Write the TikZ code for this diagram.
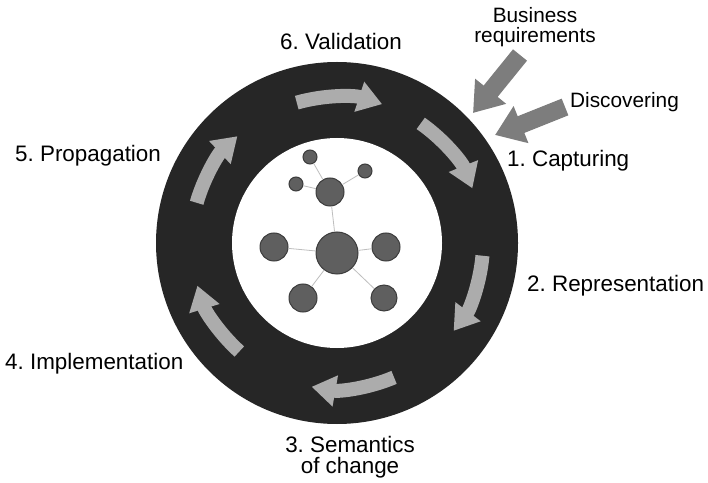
\documentclass[tikz,border=0pt]{standalone}
\usepackage{fontspec}
\setmainfont{Liberation Sans}
\usetikzlibrary{arrows.meta}
\definecolor{ringgray}{RGB}{38,38,38}
\definecolor{flowgray}{RGB}{172,172,172}
\definecolor{feedgray}{RGB}{125,125,125}
\definecolor{dotgray}{RGB}{95,95,95}
\definecolor{dotedge}{RGB}{60,60,60}
\definecolor{linkgray}{RGB}{190,190,190}

\begin{document}
\frenchspacing
\begin{tikzpicture}[x=1pt,y=1pt,
	label/.style={font=\fontsize{22.4}{21.5}\selectfont, inner sep=0pt},
	input/.style={font=\fontsize{20.8}{19.5}\selectfont, inner sep=0pt, align=center},
	dot/.style={circle, fill=dotgray, draw=dotedge, line width=1pt, inner sep=0pt},
	link/.style={draw=linkgray, line width=0.8pt},
	flow/.style={draw=flowgray, line width=14pt, -{Triangle[width=30pt,length=24pt]}},
	feed/.style={draw=feedgray, line width=18pt, -{Triangle[width=38pt,length=28pt]}}]
						\useasboundingbox (0,0) rectangle (708,482);
						\pgfmathsetmacro{\r}{146}
						\coordinate (c) at (337,239);
						\fill [ringgray] (c) circle (181);
						\fill [white] (c) circle (105);
						% arrows round the ring
						\draw [flow] ([shift={(c)}]106:\r) arc [start angle=106, end angle=72, radius=\r];
						\draw [flow] ([shift={(c)}]55:\r) arc [start angle=55, end angle=22, radius=\r];
						\draw [flow] ([shift={(c)}]-5:\r) arc [start angle=-5, end angle=-37, radius=\r];
						\draw [flow] ([shift={(c)}]-67:\r) arc [start angle=-67, end angle=-100, radius=\r];
						\draw [flow] ([shift={(c)}]-132:\r) arc [start angle=-132, end angle=-163, radius=\r];
						\draw [flow] ([shift={(c)}]164:\r) arc [start angle=164, end angle=133, radius=\r];
						% model in the middle
						\node [dot, minimum size=42pt] (hub) at (337,229) {};
						\node [dot, minimum size=28pt] (west) at (274,235) {};
						\node [dot, minimum size=28pt] (east) at (386,235) {};
						\node [dot, minimum size=28pt] (sw) at (303,184) {};
						\node [dot, minimum size=26pt] (se) at (384,184) {};
						\node [dot, minimum size=28pt] (north) at (330,290) {};
						\node [dot, minimum size=14pt] (ntop) at (310,325) {};
						\node [dot, minimum size=14pt] (nleft) at (296,298) {};
						\node [dot, minimum size=14pt] (nright) at (365,311) {};
						\draw [link] (hub) -- (west);
						\draw [link] (hub) -- (east);
						\draw [link] (hub) -- (sw);
						\draw [link] (hub) -- (se);
						\draw [link] (hub) -- (north);
						\draw [link] (north) -- (ntop);
						\draw [link] (north) -- (nleft);
						\draw [link] (north) -- (nright);
						% inputs
						\node [input] (business) at (535,455) {Business\\requirements};
						\node [input, anchor=base west] (discovering) at (570,374) {Discovering};
						\coordinate (busfrom) at (520,427);
						\coordinate (busto) at (473,369);
						\coordinate (disfrom) at (565,375);
						\coordinate (disto) at (495,347);
						\draw [feed] (busfrom) -- (busto);
						\draw [feed] (disfrom) -- (disto);
						% steps
						\node [label, anchor=base west] (capturing) at (507,315) {1. Capturing};
						\node [label, anchor=base west] (representation) at (527,190) {2. Representation};
						\node [label, align=center] (semantics) at (350,25) {3. Semantics\\of change};
						\node [label, anchor=base west] (implementation) at (5,113) {4. Implementation};
						\node [label, anchor=base west] (propagation) at (15,320) {5. Propagation};
						\node [label, anchor=base west] (validation) at (280,432) {6. Validation};
					\end{tikzpicture}
\end{document}
